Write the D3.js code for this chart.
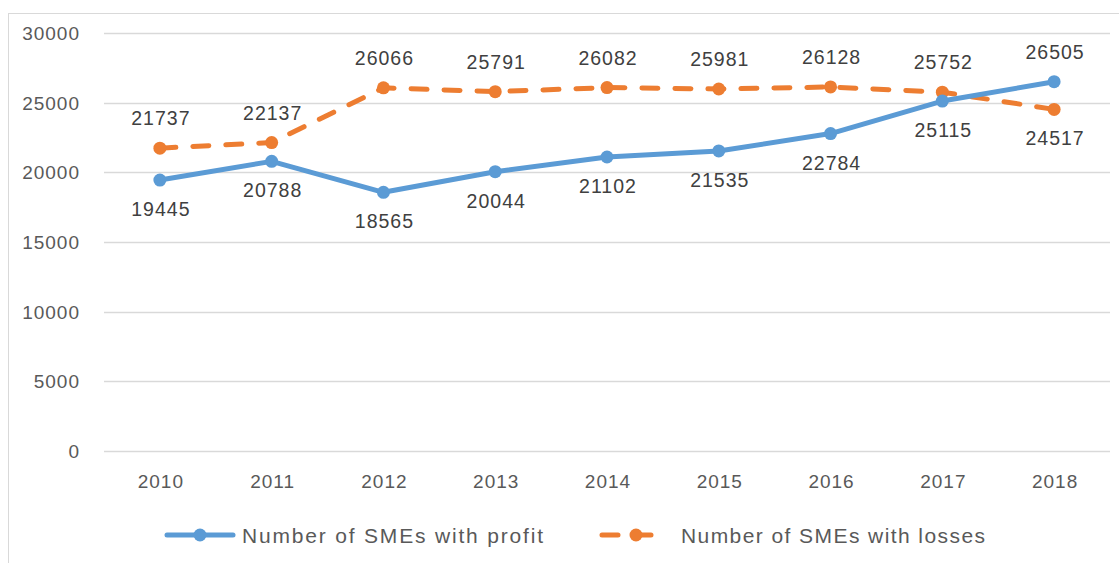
<!DOCTYPE html>
<html>
<head>
<meta charset="utf-8">
<script src="https://cdnjs.cloudflare.com/ajax/libs/d3/7.8.5/d3.min.js"></script>
<style>
  body { margin: 0; background: #fff; }
  svg { display: block; font-family: "Liberation Sans", Arial, sans-serif; }
</style>
</head>
<body>
<div id="chart"></div>
<script>
var years = ["2010", "2011", "2012", "2013", "2014", "2015", "2016", "2017", "2018"];
var profit = [19445, 20788, 18565, 20044, 21102, 21535, 22784, 25115, 26505];
var losses = [21737, 22137, 26066, 25791, 26082, 25981, 26128, 25752, 24517];
var yTicks = [0, 5000, 10000, 15000, 20000, 25000, 30000];
var seriesNames = ["Number of SMEs with profit", "Number of SMEs with losses"];

var svgWidth = 1119, svgHeight = 563;
var plot = { left: 104, right: 1110, top: 33, bottom: 451 };

var svg = d3.select("#chart").append("svg")
  .attr("width", svgWidth)
  .attr("height", svgHeight);

// chart frame
svg.append("rect")
  .attr("x", 8.5).attr("y", 13.5)
  .attr("width", 1200).attr("height", 600)
  .attr("fill", "none")
  .attr("stroke", "#d9d9d9");

var x = d3.scaleBand().domain(years).range([plot.left, plot.right]);
var y = d3.scaleLinear().domain([0, 30000]).range([plot.bottom, plot.top]);
var cx = d => x(d) + x.bandwidth() / 2;

// gridlines
svg.append("g").selectAll("line")
  .data(yTicks)
  .enter().append("line")
  .attr("x1", plot.left).attr("x2", plot.right)
  .attr("y1", d => Math.round(y(d)) + 0.5)
  .attr("y2", d => Math.round(y(d)) + 0.5)
  .attr("stroke", "#d9d9d9")
  .attr("stroke-width", 1.3);

// y tick labels
svg.append("g").selectAll("text")
  .data(yTicks)
  .enter().append("text")
  .attr("x", 80)
  .attr("y", d => y(d) + 7)
  .attr("text-anchor", "end")
  .attr("font-size", 19)
  .attr("letter-spacing", 1)
  .attr("fill", "#595959")
  .text(d => d);

// x tick labels
svg.append("g").selectAll("text")
  .data(years)
  .enter().append("text")
  .attr("x", d => cx(d) + 1)
  .attr("y", 488)
  .attr("text-anchor", "middle")
  .attr("font-size", 19)
  .attr("letter-spacing", 1)
  .attr("fill", "#595959")
  .text(d => d);

var line = d3.line()
  .x((d, i) => cx(years[i]))
  .y(d => y(d));

// losses series (dashed)
svg.append("path")
  .datum(losses)
  .attr("d", line)
  .attr("fill", "none")
  .attr("stroke", "#ed7d31")
  .attr("stroke-width", 5)
  .attr("stroke-linecap", "round")
  .attr("stroke-dasharray", "16,17");

svg.append("g").selectAll("circle")
  .data(losses)
  .enter().append("circle")
  .attr("cx", (d, i) => cx(years[i]))
  .attr("cy", d => y(d))
  .attr("r", 6.5)
  .attr("fill", "#ed7d31");

// profit series
svg.append("path")
  .datum(profit)
  .attr("d", line)
  .attr("fill", "none")
  .attr("stroke", "#5b9bd5")
  .attr("stroke-width", 5)
  .attr("stroke-linejoin", "round");

svg.append("g").selectAll("circle")
  .data(profit)
  .enter().append("circle")
  .attr("cx", (d, i) => cx(years[i]))
  .attr("cy", d => y(d))
  .attr("r", 6.5)
  .attr("fill", "#5b9bd5");

// data labels: profit below, losses above, swapped for the last year
var last = years.length - 1;
function labels(data, above) {
  svg.append("g").selectAll("text")
    .data(data)
    .enter().append("text")
    .attr("x", (d, i) => cx(years[i]) + 1)
    .attr("y", (d, i) => {
      var up = (i === last) ? !above : above;
      return y(d) + (up ? -23 : 36);
    })
    .attr("text-anchor", "middle")
    .attr("font-size", 19.5)
    .attr("letter-spacing", 1)
    .attr("fill", "#404040")
    .text(d => d);
}
labels(profit, false);
labels(losses, true);

// legend
var legend = svg.append("g");
legend.append("line")
  .attr("x1", 167).attr("x2", 233).attr("y1", 535).attr("y2", 535)
  .attr("stroke", "#5b9bd5").attr("stroke-width", 5).attr("stroke-linecap", "round");
legend.append("circle").attr("cx", 200).attr("cy", 535).attr("r", 6.5).attr("fill", "#5b9bd5");
legend.append("text")
  .attr("x", 242).attr("y", 543)
  .attr("font-size", 21)
  .attr("fill", "#595959")
  .attr("textLength", 301)
  .attr("lengthAdjust", "spacing")
  .text(seriesNames[0]);

legend.append("line")
  .attr("x1", 602).attr("x2", 666).attr("y1", 535).attr("y2", 535)
  .attr("stroke", "#ed7d31").attr("stroke-width", 5).attr("stroke-linecap", "round")
  .attr("stroke-dasharray", "16,17");
legend.append("circle").attr("cx", 636).attr("cy", 535).attr("r", 6.5).attr("fill", "#ed7d31");
legend.append("text")
  .attr("x", 681).attr("y", 543)
  .attr("font-size", 21)
  .attr("fill", "#595959")
  .attr("textLength", 304)
  .attr("lengthAdjust", "spacing")
  .text(seriesNames[1]);
</script>
</body>
</html>
